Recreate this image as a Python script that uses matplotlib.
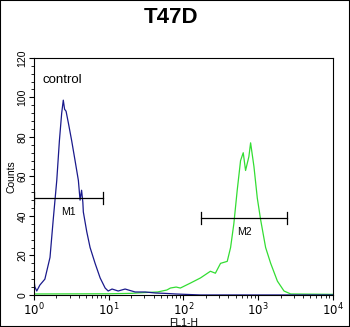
import matplotlib
matplotlib.use("Agg")
import matplotlib.pyplot as plt
from matplotlib.ticker import LogLocator, MultipleLocator, FixedLocator
from matplotlib.patches import Rectangle

plt.rcParams['font.family'] = ['Liberation Sans', 'DejaVu Sans']

# control histogram (blue)
ctrl_x = [1.0, 1.03, 1.09, 1.2, 1.4, 1.64, 1.81, 2.02, 2.19, 2.35, 2.47, 2.57, 2.69,
          2.89, 3.2, 3.55, 3.93, 4.14, 4.34, 4.51, 4.58, 5.09, 5.64, 6.58, 7.69, 8.97,
          9.85, 11.1, 13.4, 16.6, 22.6, 30.9, 42, 57, 78, 106, 169, 10000]
ctrl_y = [7.6, 4, 2, 5, 8, 19, 38, 58, 78, 92, 98.6, 94, 93,
          87, 78, 68, 58, 48, 53, 47, 42, 32, 24, 16, 8.6, 3.5,
          2, 3, 2, 3, 1.5, 1.5, 1, 0.8, 0.5, 0.3, 0, 0]

# T47D sample histogram (green)
samp_x = [1.0, 10, 20, 30, 45, 60, 67, 80, 91, 124, 169, 230, 268, 314, 386, 428,
          473, 525, 582, 632, 679, 752, 793, 879, 975, 1081, 1260, 1472, 1811,
          2220, 2730, 10000]
samp_y = [0.5, 0.6, 0.8, 1.2, 1.5, 2.5, 3.5, 4, 3.5, 6, 8.6, 12, 11, 16, 17, 24,
          36, 53, 68, 72, 63, 70, 77, 65, 49, 38, 24, 16, 7,
          2, 0.5, 0.3]

# marker gates
m1 = (1.0, 8.4, 49)
m2 = (172, 2466, 39)

fig = plt.figure(figsize=(3.5, 3.27), dpi=100)
ax = fig.add_axes([0.097, 0.098, 0.854, 0.725])

ax.plot(samp_x, samp_y, color='#33dd33', lw=0.9)
ax.plot(ctrl_x, ctrl_y, color='#1a1a8c', lw=0.9)

for (x0, x1, y), name in [(m1, 'M1'), (m2, 'M2')]:
    ax.plot([x0, x1], [y, y], color='black', lw=0.9)
    ax.plot([x0, x0], [y - 3, y + 3], color='black', lw=0.9)
    ax.plot([x1, x1], [y - 3, y + 3], color='black', lw=0.9)
    xm = (x0 * x1) ** 0.5
    ax.text(xm, y - 7, name, ha='center', va='center', fontsize=7.5)

ax.text(1.3, 109, 'control', fontsize=9.5, va='center')

ax.set_xscale('log')
ax.set_xlim(1, 10000)
ax.set_ylim(0, 120)
ax.xaxis.set_major_locator(FixedLocator([1, 10, 100, 1000, 10000]))
ax.set_xticklabels([r'$10^0$', r'$10^1$', r'$10^2$', r'$10^3$', r'$10^4$'])
ax.xaxis.set_minor_locator(LogLocator(base=10, subs=range(2, 10)))
ax.yaxis.set_major_locator(MultipleLocator(20))
ax.yaxis.set_minor_locator(MultipleLocator(4))
ax.tick_params(which='major', length=3.5, width=0.8, labelsize=7.5, pad=1)
ax.tick_params(axis='x', which='major', labelsize=8.5)
ax.tick_params(which='minor', length=2, width=0.6)
for lbl in ax.get_yticklabels():
    lbl.set_rotation(90)
    lbl.set_va('center')
ax.set_xlabel('FL1-H', fontsize=7.5, labelpad=0)
ax.set_ylabel('Counts', fontsize=7.5, labelpad=1)

fig.text(0.49, 0.945, 'T47D', ha='center', va='center', fontsize=16, fontweight='bold')
fig.patches.append(Rectangle((0, 0), 1, 1, transform=fig.transFigure, fill=False,
                             edgecolor='black', lw=1.5))

fig.savefig('out.png', dpi=100)
